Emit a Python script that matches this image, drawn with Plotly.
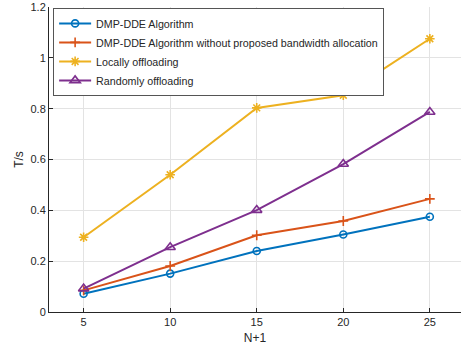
import plotly.graph_objects as go

x_vals = [5, 10, 15, 20, 25]
dmp_dde = [0.072, 0.151, 0.240, 0.305, 0.375]
dmp_dde_no_bw = [0.085, 0.181, 0.302, 0.358, 0.445]
local_off = [0.294, 0.540, 0.803, 0.853, 1.075]
random_off = [0.092, 0.255, 0.401, 0.582, 0.787]

names = ["DMP-DDE Algorithm",
         "DMP-DDE Algorithm without proposed bandwidth allocation",
         "Locally offloading",
         "Randomly offloading"]
colors = ["#0072BD", "#D95319", "#EDB120", "#7E2F8E"]
symbols = ["circle-open", "cross-thin-open", "asterisk-open", "triangle-up-open"]
sizes = [7, 7, 8, 9]
series = [dmp_dde, dmp_dde_no_bw, local_off, random_off]

fig = go.Figure()
for n, c, s, sz, y in zip(names, colors, symbols, sizes, series):
    fig.add_trace(go.Scatter(x=x_vals, y=y, name=n, mode="lines+markers",
                             line=dict(color=c, width=2),
                             marker=dict(symbol=s, size=sz, color=c,
                                         line=dict(color=c, width=1.6))))

fig.update_layout(
    width=461, height=354,
    margin=dict(l=49, r=0, t=7, b=42, autoexpand=False),
    plot_bgcolor="white", paper_bgcolor="white",
    font=dict(family="Liberation Sans, Arial, sans-serif", size=11, color="#262626"),
    showlegend=True,
    legend=dict(x=0.01, y=0.997, xanchor="left", yanchor="top",
                bgcolor="white", bordercolor="#555555", borderwidth=1,
                font=dict(size=10.7), tracegroupgap=0,
                itemwidth=32),
    xaxis=dict(range=[3, 26.8], tickvals=[5, 10, 15, 20, 25], automargin=False,
               showgrid=True, gridcolor="#e3e3e3", gridwidth=1,
               showline=True, linecolor="#262626", linewidth=1,
               ticks="inside", ticklen=4, tickcolor="#262626",
               zeroline=False, title=dict(text="N+1", font=dict(size=12), standoff=6)),
    yaxis=dict(range=[0, 1.2], tickvals=[0, 0.2, 0.4, 0.6, 0.8, 1, 1.2], automargin=False,
               ticktext=["0", "0.2", "0.4", "0.6", "0.8", "1", "1.2"],
               showgrid=True, gridcolor="#e3e3e3", gridwidth=1,
               showline=True, linecolor="#262626", linewidth=1,
               ticks="inside", ticklen=4, tickcolor="#262626",
               zeroline=False, title=dict(text="T/s", font=dict(size=12), standoff=4)),
)

fig.write_html("out.html", config={"displayModeBar": False},
               post_script="document.body.style.margin='0';document.body.style.padding='0';")
